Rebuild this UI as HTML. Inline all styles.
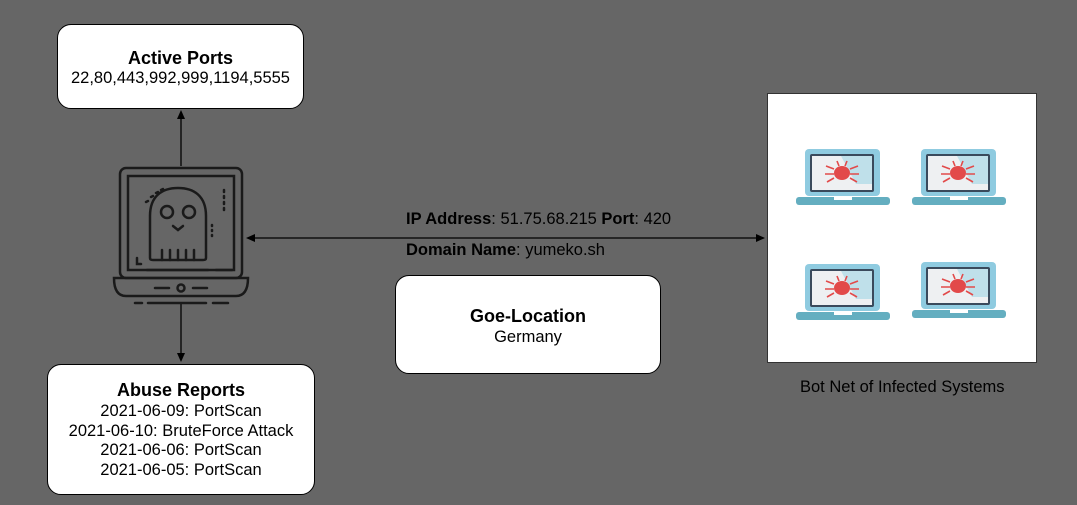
<!DOCTYPE html>
<html><head><style>
body{margin:0;width:1077px;height:505px;background:#666666;overflow:hidden;font-family:"Liberation Sans",sans-serif}
.box{position:absolute;background:#fff;border:1px solid #000;border-radius:14px;text-align:center;color:#000;box-sizing:border-box}
.t{font-weight:bold;font-size:18px}
.s{font-size:16.5px;line-height:19.5px}
</style></head><body>
<div class="box" style="left:57px;top:24px;width:247px;height:85px;padding-top:22px"><div class="t" style="line-height:22px">Active Ports</div><div class="s">22,80,443,992,999,1194,5555</div></div>
<div class="box" style="left:47px;top:364px;width:268px;height:131px;padding-top:13px"><div class="t" style="line-height:24px">Abuse Reports</div><div class="s">2021-06-09: PortScan<br>2021-06-10: BruteForce Attack<br>2021-06-06: PortScan<br>2021-06-05: PortScan</div></div>
<div class="box" style="left:395px;top:275px;width:266px;height:99px;padding-top:28px"><div class="t" style="line-height:24px">Goe-Location</div><div class="s">Germany</div></div>
<div style="position:absolute;left:406px;top:210px;font-size:16.5px;color:#000"><b>IP Address</b>: 51.75.68.215 <b>Port</b>: 420</div>
<div style="position:absolute;left:406px;top:241px;font-size:16.5px;color:#000"><b>Domain Name</b>: yumeko.sh</div>
<div style="position:absolute;left:800px;top:378px;font-size:16.5px;color:#000">Bot Net of Infected Systems</div>
<div style="position:absolute;left:767px;top:93px;width:270px;height:270px;background:#fff;border:1px solid #333;box-sizing:border-box"></div>
<svg width="1077" height="505" style="position:absolute;left:0;top:0">
<defs>
<g id="lap">
<rect x="9" y="0" width="75" height="47" rx="4" fill="#8fcbe0"/>
<rect x="14" y="5" width="64" height="38" rx="2" fill="#3a4a5c"/>
<rect x="16" y="7" width="60" height="34" fill="#eef0f2"/>
<path d="M45 7 H76 V35 H60 Z" fill="#bfe0ea"/>
<ellipse cx="46" cy="24" rx="8" ry="7" fill="#e24a4a"/>
<g stroke="#e24a4a" stroke-width="1.6" fill="none"><path d="M38 20 L30 17 M38 25 L29 25 M38 29 L31 33 M54 20 L62 17 M54 25 L63 25 M54 29 L61 33 M43 17 L41 12 M49 17 L51 12"/></g>
<rect x="0" y="48" width="94" height="8" rx="3" fill="#64aec0"/>
<rect x="38" y="48" width="18" height="3" fill="#fff"/>
</g>
</defs>
<use href="#lap" x="796" y="149"/>
<use href="#lap" x="912" y="149"/>
<use href="#lap" x="796" y="264"/>
<use href="#lap" x="912" y="262"/>
<g stroke="#000" stroke-width="1.3" fill="none">
<line x1="181" y1="114" x2="181" y2="166"/>
<line x1="181" y1="302" x2="181" y2="356"/>
<line x1="252" y1="238" x2="758" y2="238"/>
</g>
<g fill="#000">
<path d="M181 110 L177 119 L185 119Z"/>
<path d="M181 362 L177 353 L185 353Z"/>
<path d="M246 238 L255 234 L255 242Z"/>
<path d="M765 238 L756 234 L756 242Z"/>
</g>
<g stroke="#1a1a1a" stroke-width="2.5" fill="none" stroke-linecap="round">
<rect x="120" y="168" width="122" height="110" rx="6"/>
<rect x="128" y="176" width="106" height="94"/>
<path d="M114 278 H248 Q248 296 236 296 H126 Q114 296 114 278Z"/>
<path d="M155 288 H169 M193 288 H207"/>
<circle cx="181" cy="288" r="3.5"/>
<path d="M135 303 H142 M148 303 H206 M213 303 H228"/>
<path d="M150 258 V216 C150 196 162 188 178 188 C194 188 206 196 206 216 V258 Q206 260 203 260 H153 Q150 260 150 258Z"/>
<circle cx="167" cy="212" r="6"/><circle cx="189" cy="212" r="6"/>
<path d="M173 226 L178 230 L183 226"/>
<path d="M162 250 V260 M170 250 V260 M178 250 V260 M186 250 V260 M194 250 V260"/>
<path d="M137 258 V264 H141"/>
<path d="M147 270 H208 M216 270 H232"/>
<path d="M224 190 V192 M224 196 V198 M224 202 V204 M224 208 V210 M212 225 V226 M212 230 V231 M212 235 V236"/>
<path d="M146 202 L148 201 M151 197 L153 196 M156 193 L158 192 M161 190 L163 189"/>
</g>
</svg>
</body></html>
